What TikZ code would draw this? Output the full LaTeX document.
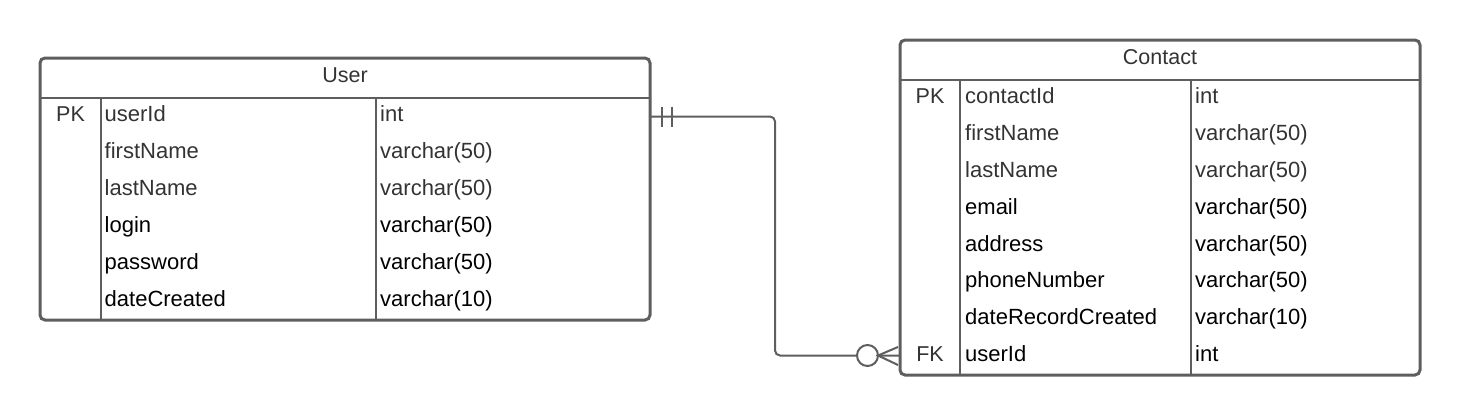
\documentclass[tikz,border=0pt]{standalone}
\usepackage{fontspec}
\setmainfont{Liberation Sans}
\usetikzlibrary{positioning}
\definecolor{frame}{RGB}{94,94,94}
\definecolor{soft}{RGB}{51,51,51}

\begin{document}
\begin{tikzpicture}[x=1pt, y=-1pt,
    table/.style = {draw=frame, line width=3pt, rounded corners=5pt},
    divider/.style = {draw=frame, line width=2.6pt},
    link/.style = {draw=frame, line width=2pt},
    cell/.style = {anchor=base west, inner sep=0pt, font=\fontsize{22}{26}\selectfont},
    keycell/.style = {anchor=base, inner sep=0pt, font=\fontsize{21.5}{26}\selectfont, text=soft},
    head/.style = {anchor=base, inner sep=0pt, font=\fontsize{21.5}{26}\selectfont, text=soft}
    ]
    \useasboundingbox (0,0) rectangle (1460,416);

    % User table
    \draw[table] (40,58) rectangle (650,320);
    \draw[divider] (40,98) -- (650,98);
    \draw[divider] (101,98) -- (101,320);
    \draw[divider] (376,98) -- (376,320);
    \node[head] (user) at (345,82) {User};
    \node[keycell] (userpk) at (70.5,121.5) {PK};
    \foreach \field/\kind/\shade [count=\i] in {
        userId/int/soft,
        firstName/varchar(50)/soft,
        lastName/varchar(50)/soft,
        login/varchar(50)/black,
        password/varchar(50)/black,
        dateCreated/varchar(10)/black}
    {
        \node[cell, text=\shade] (userfield\i) at (104.5,121.5+37*\i-37) {\field};
        \node[cell, text=\shade] (usertype\i) at (380,121.5+37*\i-37) {\kind};
    }

    % Contact table
    \draw[table] (900,40) rectangle (1420,375);
    \draw[divider] (900,80) -- (1420,80);
    \draw[divider] (960,80) -- (960,375);
    \draw[divider] (1191,80) -- (1191,375);
    \node[head] (contact) at (1160,64) {Contact};
    \node[keycell] (contactpk) at (930,103.4) {PK};
    \node[keycell] (contactfk) at (930,361.7) {FK};
    \foreach \field/\kind/\shade [count=\i] in {
        contactId/int/soft,
        firstName/varchar(50)/soft,
        lastName/varchar(50)/soft,
        email/varchar(50)/black,
        address/varchar(50)/black,
        phoneNumber/varchar(50)/black,
        dateRecordCreated/varchar(10)/black,
        userId/int/black}
    {
        \node[cell, text=\shade] (contactfield\i) at (965,103.4+36.9*\i-36.9) {\field};
        \node[cell, text=\shade] (contacttype\i) at (1195,103.4+36.9*\i-36.9) {\kind};
    }

    % relationship: one user, many contacts
    \coordinate (userend) at (650,116.5);
    \coordinate (contactend) at (900,355.5);
    \draw[link, rounded corners=5pt] (userend) -- ++(125,0) |- (contactend);
    \draw[link] ([xshift=12pt, yshift=10pt]userend) -- ([xshift=12pt, yshift=-10pt]userend);
    \draw[link] ([xshift=22pt, yshift=10pt]userend) -- ([xshift=22pt, yshift=-10pt]userend);
    \draw[link, fill=white] ([xshift=-32.5pt]contactend) circle (10.5pt);
    \draw[link] ([xshift=-2pt, yshift=8.5pt]contactend) -- ([xshift=-22pt]contactend)
        -- ([xshift=-2pt, yshift=-9.5pt]contactend);
\end{tikzpicture}
\end{document}
